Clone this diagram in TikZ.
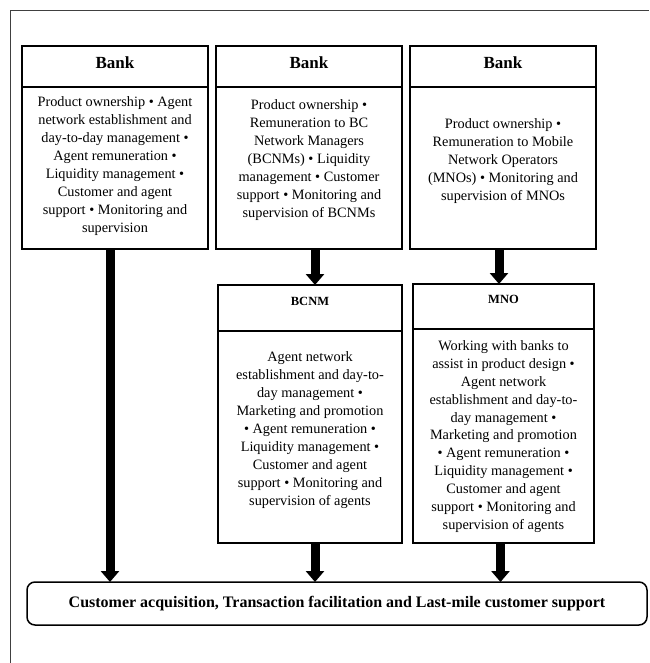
\documentclass[tikz,border=0pt]{standalone}
\usepackage{fontspec}
\setmainfont{Liberation Serif}
\usetikzlibrary{arrows.meta}
\definecolor{framegray}{HTML}{404040}
\begin{document}
\begin{tikzpicture}[x=1pt,y=-1pt,
  boxline/.style={draw=black, line width=1.8pt},
  headbox/.style={boxline, rectangle, anchor=north west, inner sep=0pt, outer sep=0pt,
    font=\bfseries\fontsize{17}{20}\selectfont, text height=11.5pt, text depth=7pt},
  smallhead/.style={boxline, rectangle, anchor=north west, inner sep=0pt, outer sep=0pt,
    font=\bfseries\fontsize{12.5}{15}\selectfont, text height=8.3pt, text depth=14pt},
  bodybox/.style={boxline, rectangle, anchor=north west, inner sep=0pt, outer sep=0pt},
  bodytext/.style={align=center, inner sep=0pt, font=\fontsize{14.3}{17.9}\selectfont},
  finalbox/.style={draw=black, line width=1.5pt, rectangle, rounded corners=8pt, anchor=north west,
    inner sep=0pt, outer sep=0pt, font=\bfseries\fontsize{16}{19}\selectfont},
  bigarrow/.style={draw=black, line width=9pt, -{Triangle[width=18pt,length=11pt]}}
]
\useasboundingbox (0,0) rectangle (649,663);
\fill[white] (0,0) rectangle (649,663);
% outer frame (top and left edges)
\draw[framegray, line width=1.3pt] (10.7,663) -- (10.7,10.7) -- (649,10.7);

% Bank 1
\node[headbox, minimum width=186pt, minimum height=41pt] (b1h) at (22,46) {Bank};
\node[bodybox, minimum width=186pt, minimum height=162pt] (b1b) at (22,87) {};
\node[bodytext] (b1t) at (115,166) {Product ownership • Agent\\network establishment and\\day-to-day management •\\Agent remuneration •\\Liquidity management •\\Customer and agent\\support • Monitoring and\\supervision};

% Bank 2
\node[headbox, minimum width=186pt, minimum height=41pt] (b2h) at (216,46) {Bank};
\node[bodybox, minimum width=186pt, minimum height=162pt] (b2b) at (216,87) {};
\node[bodytext] (b2t) at (309,160) {Product ownership •\\Remuneration to BC\\Network Managers\\(BCNMs) • Liquidity\\management • Customer\\support • Monitoring and\\supervision of BCNMs};

% Bank 3
\node[headbox, minimum width=186pt, minimum height=41pt] (b3h) at (410,46) {Bank};
\node[bodybox, minimum width=186pt, minimum height=162pt] (b3b) at (410,87) {};
\node[bodytext] (b3t) at (503,161) {Product ownership •\\Remuneration to Mobile\\Network Operators\\(MNOs) • Monitoring and\\supervision of MNOs};

% BCNM
\node[smallhead, minimum width=184pt, minimum height=46pt] (bch) at (218,285) {BCNM};
\node[bodybox, minimum width=184pt, minimum height=212pt] (bcb) at (218,331) {};
\node[bodytext] (bct) at (310,430) {Agent network\\establishment and day-to-\\day management •\\Marketing and promotion\\• Agent remuneration •\\Liquidity management •\\Customer and agent\\support • Monitoring and\\supervision of agents};

% MNO
\node[smallhead, minimum width=181pt, minimum height=45pt] (mnoh) at (413,284) {MNO};
\node[bodybox, minimum width=181pt, minimum height=214pt] (mnob) at (413,329) {};
\node[bodytext] (mnot) at (503.5,436.5) {Working with banks to\\assist in product design •\\Agent network\\establishment and day-to-\\day management •\\Marketing and promotion\\• Agent remuneration •\\Liquidity management •\\Customer and agent\\support • Monitoring and\\supervision of agents};

% final box
\node[finalbox, minimum width=620pt, minimum height=43pt] (fin) at (27,582) {Customer acquisition, Transaction facilitation and Last-mile customer support};

% arrows
\draw[bigarrow] ([xshift=-5pt]b1b.south) -- ([xshift=-5pt]b1b.south |- fin.north);
\draw[bigarrow] ([xshift=6pt]b2b.south) -- ([xshift=6pt]b2b.south |- bch.north);
\draw[bigarrow] ([xshift=-4pt]b3b.south) -- ([xshift=-4pt]b3b.south |- mnoh.north);
\draw[bigarrow] ([xshift=5pt]bcb.south) -- ([xshift=5pt]bcb.south |- fin.north);
\draw[bigarrow] ([xshift=-3pt]mnob.south) -- ([xshift=-3pt]mnob.south |- fin.north);
\end{tikzpicture}
\end{document}
